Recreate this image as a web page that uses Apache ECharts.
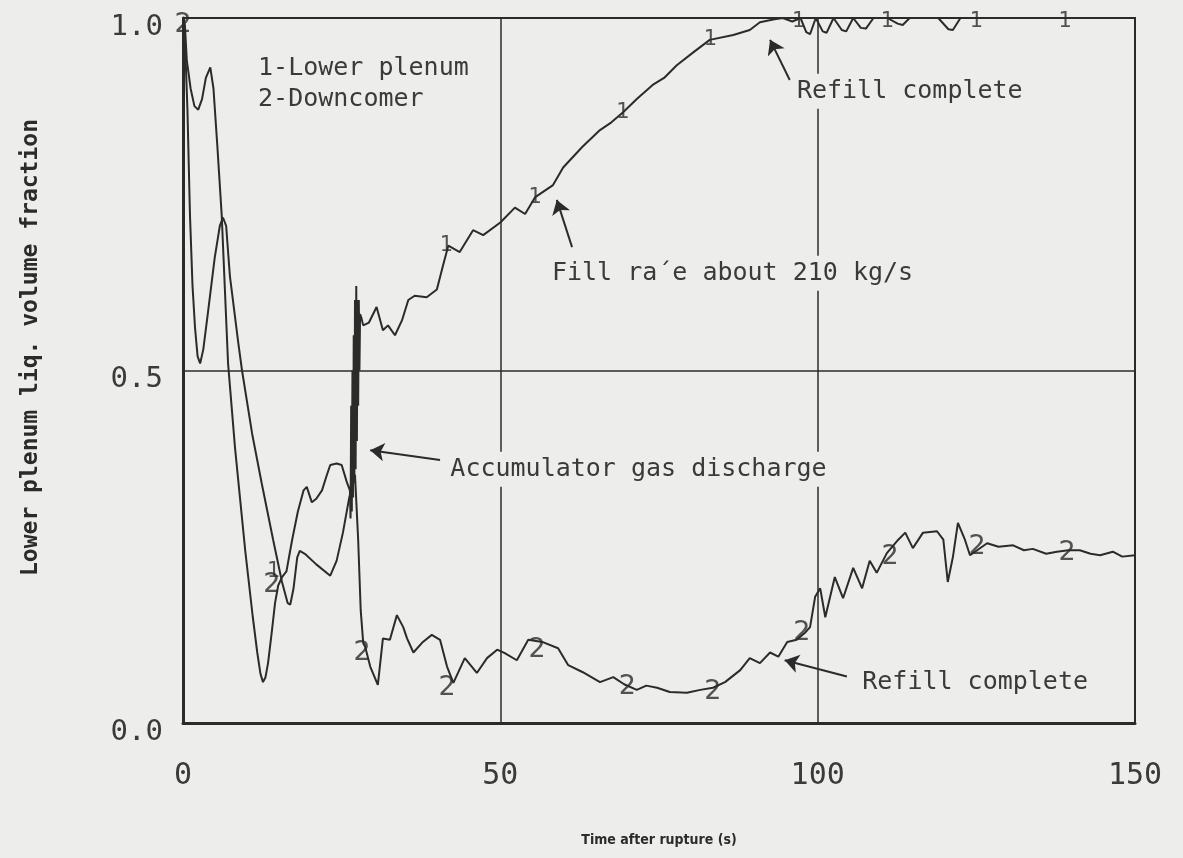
<!DOCTYPE html>
<html>
<head>
<meta charset="utf-8">
<title>Lower plenum liq. volume fraction</title>
<script src="https://cdn.jsdelivr.net/npm/echarts@6/dist/echarts.min.js"></script>
<style>
html, body { margin: 0; padding: 0; background: #ededeb; }
#chartDiv { width: 1183px; height: 858px; }
</style>
</head>
<body>
<div id="chartDiv"></div>
<script>
var myChart = echarts.init(document.getElementById('chartDiv'));
window.onresize = myChart.resize;

var ink = '#2b2b2b';
var paper = '#ededeb';
var mono = 'DejaVu Sans Mono';

// time (s), liquid volume fraction
var lowerPlenum = [
    [0, 1.0], [0.3, 0.99], [0.6, 0.94], [1.2, 0.9], [1.8, 0.875], [2.4, 0.87],
    [3.0, 0.885], [3.6, 0.915], [4.3, 0.93], [4.8, 0.9], [5.4, 0.82], [6.1, 0.72],
    [7.1, 0.51], [8.2, 0.39], [9.8, 0.245], [11.0, 0.15], [11.7, 0.10], [12.2, 0.07],
    [12.6, 0.058], [13.0, 0.065], [13.4, 0.085], [14.0, 0.13], [14.5, 0.17], [15.0, 0.195],
    [15.6, 0.207], [16.3, 0.215], [16.8, 0.24], [17.2, 0.26], [18.1, 0.3], [19.0, 0.33],
    [19.5, 0.335], [20.3, 0.313], [21.0, 0.318], [21.9, 0.33], [22.6, 0.35], [23.2, 0.366],
    [24.2, 0.368], [25.0, 0.366], [25.8, 0.342], [26.3, 0.33], [26.4, 0.29], [26.5, 0.45],
    [26.6, 0.3], [26.7, 0.5], [26.8, 0.32], [26.9, 0.55], [27.0, 0.34], [27.1, 0.6],
    [27.2, 0.36], [27.3, 0.62], [27.4, 0.4], [27.5, 0.6], [27.6, 0.45], [27.7, 0.6],
    [27.8, 0.5], [27.9, 0.58], [28.1, 0.575], [28.4, 0.564], [29.3, 0.568], [30.5, 0.59],
    [31.5, 0.557], [32.3, 0.564], [33.4, 0.55], [34.5, 0.571], [35.5, 0.6], [36.5, 0.606],
    [38.4, 0.604], [40.0, 0.615], [41.0, 0.65], [41.8, 0.677], [43.6, 0.668], [45.7, 0.699],
    [47.3, 0.692], [50.0, 0.71], [52.3, 0.731], [53.9, 0.722], [55.5, 0.746], [58.3, 0.763],
    [59.9, 0.788], [62.9, 0.817], [65.7, 0.841], [67.5, 0.852], [69.3, 0.866], [71.5, 0.885],
    [74.0, 0.905], [75.8, 0.915], [77.8, 0.933], [80.5, 0.952], [83.0, 0.969], [86.7, 0.976],
    [89.3, 0.983], [90.9, 0.994], [93.0, 0.998], [94.5, 1.0], [96.0, 0.995], [97.3, 1.0],
    [98.2, 0.98], [98.8, 0.977], [99.7, 1.0], [100.8, 0.981], [101.4, 0.979], [102.5, 1.0],
    [103.8, 0.983], [104.5, 0.981], [105.6, 1.0], [106.8, 0.986], [107.6, 0.985], [108.8, 1.0],
    [111.0, 1.0], [112.6, 0.992], [113.4, 0.99], [114.5, 1.0], [119.0, 1.0], [120.6, 0.984],
    [121.3, 0.983], [122.5, 1.0], [150, 1.0]
];

var downcomer = [
    [0, 1.0], [0.3, 0.97], [0.7, 0.87], [1.1, 0.72], [1.5, 0.62], [1.9, 0.56],
    [2.3, 0.52], [2.7, 0.51], [3.2, 0.53], [3.9, 0.58], [5.0, 0.66], [5.8, 0.705],
    [6.3, 0.717], [6.8, 0.705], [7.4, 0.633], [8.7, 0.54], [9.3, 0.5], [10.9, 0.41],
    [12.4, 0.34], [14.2, 0.26], [15.6, 0.2], [16.5, 0.17], [16.9, 0.168], [17.4, 0.19],
    [18.0, 0.235], [18.4, 0.244], [19.2, 0.24], [21.0, 0.225], [23.2, 0.209], [24.2, 0.23],
    [25.2, 0.27], [26.2, 0.32], [27.1, 0.352], [27.6, 0.26], [28.0, 0.16], [28.4, 0.113],
    [28.7, 0.108], [29.5, 0.08], [30.7, 0.054], [31.5, 0.12], [32.6, 0.118], [33.7, 0.153],
    [34.7, 0.136], [35.3, 0.12], [36.3, 0.1], [37.8, 0.115], [39.2, 0.125], [40.5, 0.118],
    [41.6, 0.08], [42.6, 0.057], [44.4, 0.092], [46.3, 0.071], [47.9, 0.092], [49.5, 0.104],
    [50.7, 0.099], [52.6, 0.089], [54.4, 0.118], [56.6, 0.115], [59.1, 0.106], [60.7, 0.082],
    [63.0, 0.072], [65.7, 0.058], [67.8, 0.065], [69.5, 0.055], [71.5, 0.047], [73.0, 0.053],
    [74.7, 0.05], [76.7, 0.044], [79.4, 0.043], [81.5, 0.047], [83.5, 0.05], [85.4, 0.058],
    [87.8, 0.075], [89.3, 0.092], [90.9, 0.085], [92.5, 0.1], [93.8, 0.094], [95.2, 0.115],
    [96.7, 0.118], [98.0, 0.128], [98.8, 0.136], [99.6, 0.179], [100.4, 0.191], [101.2, 0.15],
    [102.7, 0.207], [104.0, 0.177], [105.6, 0.22], [107.0, 0.191], [108.2, 0.23], [109.3, 0.213],
    [110.9, 0.241], [112.7, 0.26], [113.8, 0.27], [115.0, 0.248], [116.6, 0.27], [118.8, 0.272],
    [119.8, 0.26], [120.5, 0.2], [121.3, 0.235], [122.1, 0.284], [123.2, 0.26], [124.0, 0.238],
    [126.7, 0.255], [128.5, 0.25], [130.8, 0.252], [132.5, 0.245], [133.9, 0.247], [136.0, 0.24],
    [137.7, 0.243], [139.5, 0.245], [141.3, 0.245], [143.0, 0.24], [144.5, 0.238], [146.5, 0.243],
    [148.0, 0.236], [150.0, 0.238]
];

// curve id glyphs drawn along each line
var plenumMarks = [
    [14.3, 0.215], [41.5, 0.677], [55.5, 0.746], [69.3, 0.866], [83.1, 0.969],
    [97.0, 0.995], [111.0, 0.995], [125.0, 0.995], [139.0, 0.995]
];
var downcomerMarks = [
    [0, 0.99], [14.0, 0.196], [28.2, 0.1], [41.6, 0.05], [55.8, 0.104], [70.0, 0.051],
    [83.5, 0.044], [97.5, 0.128], [111.4, 0.235], [125.1, 0.25], [139.3, 0.241]
];

// notes: [text, x, y]
var notes = [
    ['1-Lower plenum', 10.8, 0.929],
    ['2-Downcomer', 10.8, 0.884],
    ['Refill complete', 95.7, 0.896],
    ['Fill ra\u00b4e about 210 kg/s', 57.1, 0.638],
    ['Accumulator gas discharge', 41.1, 0.36],
    ['Refill complete', 106.0, 0.058]
];
// arrows: [tailX, tailY, headX, headY]
var arrows = [
    [40.5, 0.373, 29.5, 0.387],
    [61.3, 0.675, 58.9, 0.742],
    [95.6, 0.912, 92.5, 0.969],
    [104.6, 0.066, 94.8, 0.089]
];

var xTicks = [0, 50, 100, 150];
var yTicks = [0, 0.5, 1.0];

option = {
    backgroundColor: paper,
    animation: false,
    grid: {
        left: 183, right: 48, top: 18, bottom: 135,
        show: true,
        borderColor: ink,
        borderWidth: 2
    },
    xAxis: {
        type: 'value',
        min: xTicks[0],
        max: xTicks[xTicks.length - 1],
        interval: 50,
        name: 'Time after rupture (s)',
        nameLocation: 'middle',
        nameGap: 110,
        nameTextStyle: {
            fontFamily: 'DejaVu Sans Condensed',
            fontWeight: 'bold',
            fontSize: 14,
            color: ink
        },
        axisLine: { show: true, lineStyle: { color: ink, width: 3 } },
        axisTick: { show: false },
        axisLabel: {
            margin: 38,
            fontFamily: mono,
            fontSize: 30,
            color: '#3a3a3a'
        },
        splitLine: { show: true, lineStyle: { color: ink, width: 1.5 } }
    },
    yAxis: {
        type: 'value',
        min: yTicks[0],
        max: yTicks[yTicks.length - 1],
        interval: 0.5,
        name: 'Lower plenum liq. volume fraction',
        nameLocation: 'middle',
        nameRotate: 90,
        nameGap: 140,
        nameTextStyle: {
            fontFamily: mono,
            fontWeight: 'bold',
            fontSize: 23,
            color: ink,
            padding: [0, 0, 0, 46]
        },
        axisLine: { show: true, lineStyle: { color: ink, width: 3 } },
        axisTick: { show: false },
        axisLabel: {
            margin: 20,
            fontFamily: mono,
            fontSize: 29,
            lineHeight: 18,
            verticalAlign: 'top',
            color: '#3a3a3a',
            formatter: function (v) { return v.toFixed(1); }
        },
        splitLine: { show: true, lineStyle: { color: ink, width: 1.5 } }
    },
    series: [
        {
            name: 'Lower plenum',
            type: 'line',
            data: lowerPlenum,
            showSymbol: false,
            clip: false,
            lineStyle: { color: ink, width: 2 },
            markPoint: {
                symbol: 'circle',
                symbolSize: 1,
                itemStyle: { color: 'rgba(0,0,0,0)' },
                label: {
                    show: true,
                    position: 'right',
                    distance: 0,
                    fontFamily: mono,
                    fontSize: 25,
                    color: '#3a3a3a',
                    backgroundColor: paper,
                    padding: [5, 6],
                    formatter: function (p) { return p.name; }
                },
                data: notes.map(function (n) {
                    return { name: n[0], coord: [n[1], n[2]] };
                })
            },
            markLine: {
                silent: true,
                symbol: ['none', 'arrow'],
                symbolSize: 14,
                label: { show: false },
                lineStyle: { color: ink, width: 2, type: 'solid' },
                data: arrows.map(function (a) {
                    return [{ coord: [a[0], a[1]] }, { coord: [a[2], a[3]] }];
                })
            }
        },
        {
            name: 'Downcomer',
            type: 'line',
            data: downcomer,
            showSymbol: false,
            clip: false,
            lineStyle: { color: ink, width: 2 }
        },
        {
            name: 'plenumMarks',
            type: 'scatter',
            data: plenumMarks,
            symbolSize: 1,
            itemStyle: { color: 'rgba(0,0,0,0)' },
            label: {
                show: true,
                position: 'inside',
                fontFamily: 'DejaVu Sans',
                fontSize: 21,
                color: ink,
                formatter: '1'
            }
        },
        {
            name: 'downcomerMarks',
            type: 'scatter',
            data: downcomerMarks,
            symbolSize: 1,
            itemStyle: { color: 'rgba(0,0,0,0)' },
            label: {
                show: true,
                position: 'inside',
                fontFamily: 'DejaVu Sans',
                fontSize: 27,
                color: ink,
                formatter: '2'
            }
        }
    ]
};
myChart.setOption(option);
</script>
</body>
</html>
